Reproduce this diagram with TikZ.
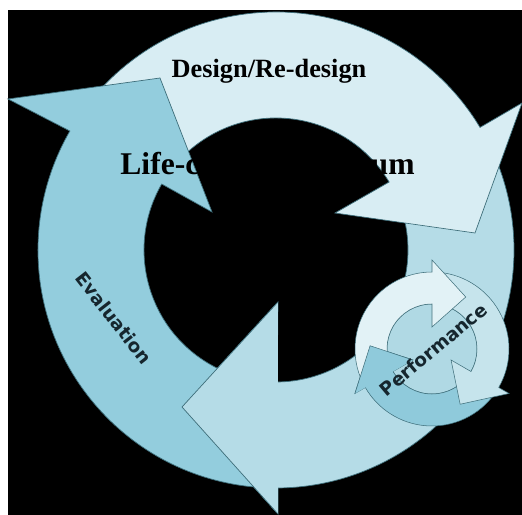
\documentclass[tikz,border=0pt]{standalone}
\usepackage{fontspec}
\setmainfont{Liberation Serif}
\newfontfamily\labelfont{DejaVu Sans}
\definecolor{designc}{HTML}{D8EDF3}
\definecolor{evalc}{HTML}{93CDDD}
\definecolor{perfc}{HTML}{B5DCE7}
\definecolor{edgec}{HTML}{3E6E7A}
\definecolor{miniw}{HTML}{E2F2F6}
\definecolor{minir}{HTML}{C6E4EC}
\definecolor{minib}{HTML}{8FCADB}
\definecolor{minic}{HTML}{B0D9E4}
\definecolor{labelc}{HTML}{16262E}
\tikzset{
	ringarrow/.style={draw=edgec,line width=.4pt},
	minearrow/.style={draw=edgec,line width=.3pt},
	sidelabel/.style={font={\labelfont\bfseries\fontsize{10.5}{12}\selectfont},text=labelc,inner sep=0pt}
}
\begin{document}
\begin{tikzpicture}[x=0.02cm,y=0.02cm]
	\useasboundingbox (0,0) rectangle (522,515);
	%background
	\fill[white] (0,0) rectangle (522,515);
	\fill[black] (8,0) rectangle (522,505);
	%big cycle
	\begin{scope}[shift={(276,265)}]
		% bottom arrow
		\filldraw[fill=perfc,ringarrow] (25:238) arc[start angle=25,end angle=-89.5,radius=238] -- (2,-264) -- (-94,-157) -- (2,-52) -- (-89.5:132) arc[start angle=-89.5,end angle=25,radius=132] -- cycle;
		% design arrow
		\filldraw[fill=designc,ringarrow] (148:238) arc[start angle=148,end angle=31,radius=238] -- (246,147) -- (199,17) -- (59,37) -- (31:132) arc[start angle=31,end angle=148,radius=132] -- cycle;
		% evaluation arrow
		\filldraw[fill=evalc,ringarrow] (267:238) arc[start angle=267,end angle=150,radius=238] -- (-268,151) -- (-116,172) -- (-64,38) -- (150:132) arc[start angle=150,end angle=267,radius=132] -- cycle;
		% bottom head again, over the evaluation tail
		\fill[perfc] (2,-264) -- (-94,-157) -- (2,-52) -- cycle;
		\draw[ringarrow] (2,-264) -- (-94,-157) -- (2,-52);
	\end{scope}
	%small cycle
	\begin{scope}[shift={(432,166)}]
		% inner disc
		\filldraw[fill=minic,minearrow] (0,0) circle (45);
		% lower arrow
		\filldraw[fill=minib,minearrow] (-35:77) arc[start angle=-35,end angle=-150,radius=77] -- (-150:89) -- (-183:62) -- (-150:22) -- (-150:45) arc[start angle=-150,end angle=-35,radius=45] -- cycle;
		% right arrow
		\filldraw[fill=minir,minearrow] (85:77) arc[start angle=85,end angle=-30,radius=77] -- (-30:89) -- (-63:62) -- (-30:22) -- (-30:45) arc[start angle=-30,end angle=85,radius=45] -- cycle;
		% upper arrow
		\filldraw[fill=miniw,minearrow] (205:77) arc[start angle=205,end angle=90,radius=77] -- (90:89) -- (57:62) -- (90:22) -- (90:45) arc[start angle=90,end angle=205,radius=45] -- cycle;
		% lower head again
		\fill[minib] (-150:89) -- (-183:62) -- (-150:22) -- cycle;
		\draw[minearrow] (-150:89) -- (-183:62) -- (-150:22);
	\end{scope}
	%labels
	\node[font={\bfseries\fontsize{15}{17}\selectfont},anchor=base] (design) at (269,438) {Design/Re-design};
	\node[sidelabel,rotate=-52] (eval) at (114,197) {Evaluation};
	\node[sidelabel,rotate=40] (perf) at (433.5,165.5) {Performance};
	\node[font={\bfseries\fontsize{18}{20}\selectfont},anchor=base] (lifecycle) at (267.5,340) {Life-cycle Continuum};
\end{tikzpicture}
\end{document}
